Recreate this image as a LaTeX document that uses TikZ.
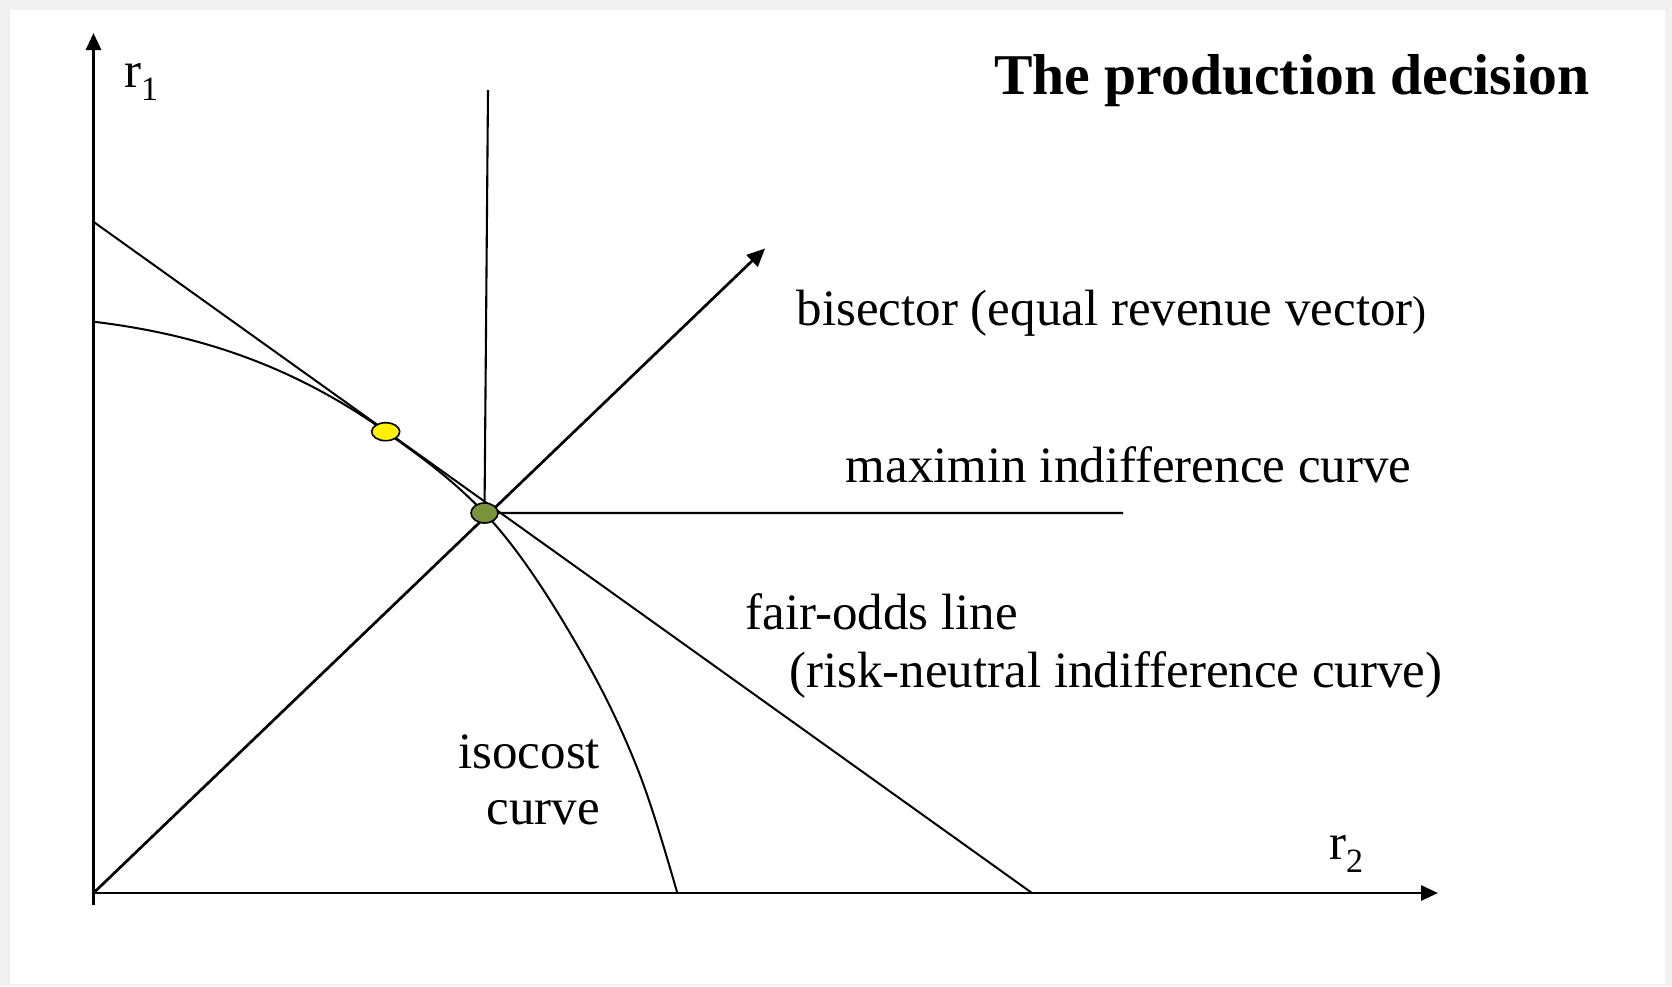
\documentclass[tikz,border=0pt]{standalone}
\usepackage{fontspec}
\setmainfont{Liberation Serif}
\usetikzlibrary{arrows.meta,shapes.geometric}
\definecolor{framegray}{RGB}{240,240,240}
\definecolor{olivegreen}{RGB}{119,147,60}
\begin{document}
\begin{tikzpicture}[x=1pt,y=-1pt,
  axisline/.style={line width=2.9pt,-{Triangle[length=17pt,width=15pt]}},
  vecline/.style={line width=2.7pt,-{Triangle[length=18pt,width=16pt]}},
  thinline/.style={line width=2pt},
  lbl/.style={inner sep=0pt,anchor=base west,font=\fontsize{51}{61}\selectfont},
  lblr/.style={lbl,anchor=base east},
  dot/.style={ellipse,draw=black,line width=1.6pt,inner sep=0pt}
]
\useasboundingbox (0,0) rectangle (1672,986);
\fill[framegray] (0,0) rectangle (1672,986);
\fill[white] (10,10) rectangle (1665,984);

% named points
\coordinate (O) at (93.5,893);
\coordinate (Ytop) at (93.5,33);
\coordinate (Ybot) at (93.5,905);
\coordinate (Xend) at (1438,893);
\coordinate (F1) at (93.5,221.8);
\coordinate (F2) at (1032,893);
\coordinate (Btip) at (765,248.5);
\coordinate (Gc) at (484.5,513);
\coordinate (Yc) at (385.7,431.7);
\coordinate (Vtop) at (488,90);
\coordinate (Hend) at (1123,513);
\coordinate (I0) at (93.5,321.7);
\coordinate (I3) at (570,633);
\coordinate (I4) at (636.7,766.7);
\coordinate (I5) at (677.3,893);

% axes
\draw[axisline] (Ybot) -- (Ytop);
\draw[axisline] (O) -- (Xend);

% fair-odds line
\draw[thinline] (F1) -- (F2);
% isocost curve
\draw[thinline] (I0) .. controls (190.9,333.4) and (288.3,362.1) .. (Yc)
  .. controls (418.6,455.2) and (451.6,478.5) .. (Gc)
  .. controls (513,542.9) and (541.5,584.8) .. (I3)
  .. controls (592.2,670.5) and (614.5,711.2) .. (I4)
  .. controls (650.2,800.5) and (663.8,846.2) .. (I5);
% bisector
\draw[vecline] (O) -- (Btip);
% maximin indifference curve
\draw[line width=2.1pt] (Vtop) -- (Gc) -- (Hend);

% dots
\node[dot,fill=yellow,minimum width=28pt,minimum height=18pt] (ydot) at (Yc) {};
\node[dot,fill=olivegreen,minimum width=27pt,minimum height=20pt] (gdot) at (Gc) {};

% labels
\node[lbl] (r1) at (124,87) {r\raisebox{-13pt}{\fontsize{34}{34}\selectfont 1}};
\node[lbl] (r2) at (1329,859) {r\raisebox{-13pt}{\fontsize{34}{34}\selectfont 2}};
\node[lbl,font=\bfseries\fontsize{57.7}{68}\selectfont] (title) at (993.8,94) {The production decision};
\node[lbl] (bis) at (796.5,325) {bisector (equal revenue vector{\fontsize{42}{42}\selectfont )}};
\node[lbl] (maxi) at (845.6,482) {maximin indifference curve};
\node[lbl] (fair) at (745.3,629) {fair-odds line};
\node[lbl] (risk) at (789,687) {(risk-neutral indifference curve)};
\node[lblr] (iso) at (600.3,768) {isocost};
\node[lblr] (isoc) at (600.3,824) {curve};
\end{tikzpicture}
\end{document}
